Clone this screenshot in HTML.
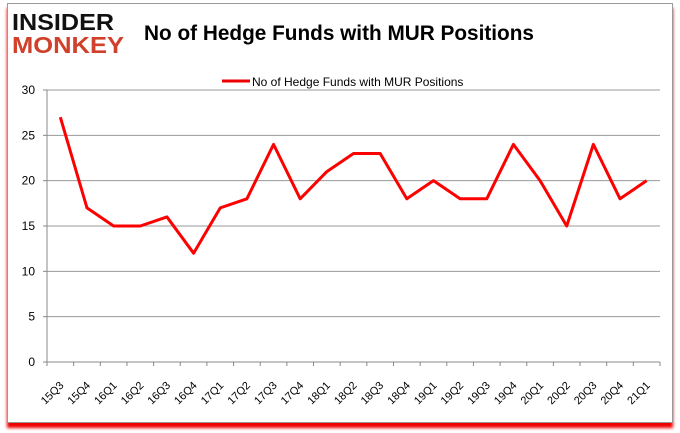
<!DOCTYPE html>
<html><head><meta charset="utf-8"><style>
body{margin:0;background:#fff;font-family:"Liberation Sans",sans-serif}
#wrap{position:relative;width:680px;height:433px;overflow:hidden}
#frame{position:absolute;left:7px;top:3px;width:664px;height:418px;border:1px solid #999;background:#fff;box-shadow:0 5px 3px #e00}
</style></head><body>
<div id="wrap">
<div id="frame"></div>
<svg width="680" height="433" style="position:absolute;left:0;top:0">
<text x="12" y="30" font-size="23" font-weight="bold" fill="#111" font-family="Liberation Sans" textLength="102" lengthAdjust="spacingAndGlyphs">INSIDER</text>
<text x="12" y="53" font-size="23" font-weight="bold" fill="#d0402a" font-family="Liberation Sans" textLength="112" lengthAdjust="spacingAndGlyphs">MONKEY</text>
<text x="339" y="40" font-size="21" font-weight="bold" text-anchor="middle" fill="#000" textLength="390" lengthAdjust="spacingAndGlyphs">No of Hedge Funds with MUR Positions</text>
<line x1="222" y1="81" x2="250" y2="81" stroke="#e00" stroke-width="3"/>
<text x="252" y="86" font-size="12" fill="#000">No of Hedge Funds with MUR Positions</text>
<g id="grid"></g><g id="axes"></g>
<polyline id="series" fill="none" stroke="#f00" stroke-width="3" stroke-linejoin="round"/>
</svg>
</div>
<script>
const categories=["15Q3","15Q4","16Q1","16Q2","16Q3","16Q4","17Q1","17Q2","17Q3","17Q4","18Q1","18Q2","18Q3","18Q4","19Q1","19Q2","19Q3","19Q4","20Q1","20Q2","20Q3","20Q4","21Q1"];
const values=[27,17,15,15,16,12,17,18,24,18,21,23,23,18,20,18,18,24,20,15,24,18,20];
const yTicks=[0,5,10,15,20,25,30];
const L=47,R=660,T=90,B=362,ns="http://www.w3.org/2000/svg";
const cw=(R-L)/categories.length;
const xs=i=>L+cw*(i+0.5), ys=v=>B-(v/30)*(B-T);
const g=document.getElementById('grid'),a=document.getElementById('axes');
function mk(tag,at,p){const e=document.createElementNS(ns,tag);for(const k in at)e.setAttribute(k,at[k]);p.appendChild(e);return e;}
yTicks.forEach(t=>{
 const y=ys(t);
 if(t>0){const l=mk('line',{x1:L,x2:R,y1:y,y2:y,stroke:'#999'},g);
 
 }
 mk('line',{x1:L-4,x2:L,y1:y,y2:y,stroke:'#888'},a);
 const tx=mk('text',{x:L-12,y:y+4,'font-size':12,'text-anchor':'end'},a);tx.textContent=t;
 
 
});
mk('line',{x1:L,x2:L,y1:T,y2:B,stroke:'#888'},a);
mk('line',{x1:L,x2:R,y1:B,y2:B,stroke:'#888'},a);
categories.forEach((c,i)=>{
 const x0=L+cw*i;mk('line',{x1:x0,x2:x0,y1:B,y2:B+4,stroke:'#888'},a);
 const x=xs(i)+4,y=B+24;
 const tx=mk('text',{x:x,y:y,'font-size':11,'text-anchor':'end',transform:`rotate(-45 ${x} ${y})`},a);tx.textContent=c;
 
 
});
mk('line',{x1:R,x2:R,y1:B,y2:B+4,stroke:'#888'},a);
document.getElementById('series').setAttribute('points',values.map((v,i)=>xs(i)+','+ys(v)).join(' '));
</script>
</body></html>
